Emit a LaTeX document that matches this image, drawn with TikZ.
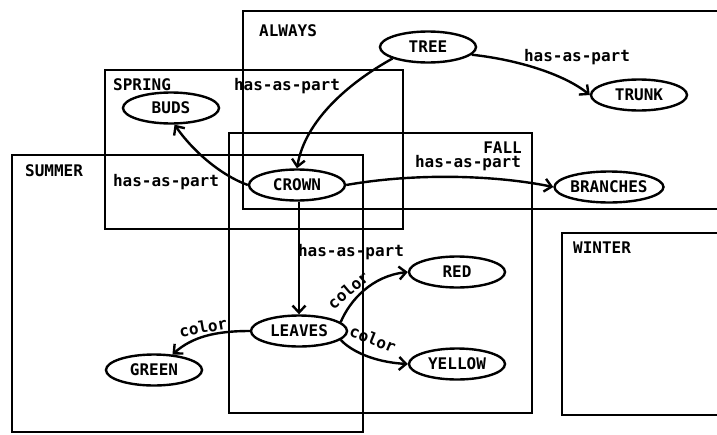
\documentclass[tikz,border=0pt]{standalone}
\usepackage{fontspec}
\setmonofont{DejaVu Sans Mono}
\usetikzlibrary{shapes.geometric,arrows.meta}

\begin{document}
\begin{tikzpicture}[
            x=1pt, y=-1pt,
            every node/.style={font=\ttfamily\bfseries\fontsize{16}{18}\selectfont},
            concept/.style={ellipse, draw, line width=2.4pt, minimum width=96pt, minimum height=31pt, inner sep=0pt},
            lbl/.style={inner sep=0pt},
            frame/.style={line width=2.4pt},
            arc/.style={line width=2.4pt, -{Straight Barb[length=7pt, width=13pt]}}
        ]
            \useasboundingbox (0,0) rectangle (717,434);
            \draw[frame] (717,11) -- (243,11) -- (243,209) -- (717,209);
            \draw[frame] (105,70) rectangle (403,229);
            \draw[frame] (229,133) rectangle (532,413);
            \draw[frame] (12,155) rectangle (363,432);
            \draw[frame] (717,233) -- (562,233) -- (562,415) -- (717,415);
            \node[lbl, anchor=west] (always) at (259,31) {ALWAYS};
            \node[lbl, anchor=west] (spring) at (113,85) {SPRING};
            \node[lbl, anchor=west] (summer) at (25,171) {SUMMER};
            \node[lbl, anchor=east] (fall) at (522,148) {FALL};
            \node[lbl, anchor=west] (winter) at (573,248) {WINTER};
            \node[concept] (tree) at (428,47) {TREE};
            \node[concept] (trunk) at (639,95) {TRUNK};
            \node[concept] (buds) at (171,108) {BUDS};
            \node[concept] (crown) at (297,185) {CROWN};
            \node[concept] (branches) at (609,187) {BRANCHES};
            \node[concept] (leaves) at (299,331) {LEAVES};
            \node[concept] (red) at (457,272) {RED};
            \node[concept] (yellow) at (457,364) {YELLOW};
            \node[concept] (green) at (154,370) {GREEN};
            \draw[arc] (tree.198) .. controls (350,82) and (305,120) .. (crown.north);
            \draw[arc] (tree.-10) .. controls (520,60) and (565,75) .. (trunk.west);
            \draw[arc] (crown.west) .. controls (220,175) and (192,150) .. (buds.-78);
            \draw[arc] (crown.east) .. controls (420,172) and (500,176) .. (branches.west);
            \draw[arc] (crown.south -| leaves) -- (leaves);
            \draw[arc] (leaves.12) .. controls (350,300) and (372,276) .. (red.west);
            \draw[arc] (leaves.-12) .. controls (350,350) and (372,362) .. (yellow.west);
            \draw[arc] (leaves.west) .. controls (215,331) and (192,337) .. (green.40);
            \node[lbl] (p-crown) at (287,86) {has-as-part};
            \node[lbl] (p-trunk) at (577,57) {has-as-part};
            \node[lbl] (p-buds) at (166,182) {has-as-part};
            \node[lbl] (p-branches) at (468,163) {has-as-part};
            \node[lbl] (p-leaves) at (351,252) {has-as-part};
            \node[lbl, rotate=40] (c-red) at (348,290) {color};
            \node[lbl, rotate=-22] (c-yellow) at (373,339) {color};
            \node[lbl, rotate=10] (c-green) at (203,327) {color};
        \end{tikzpicture}
\end{document}
